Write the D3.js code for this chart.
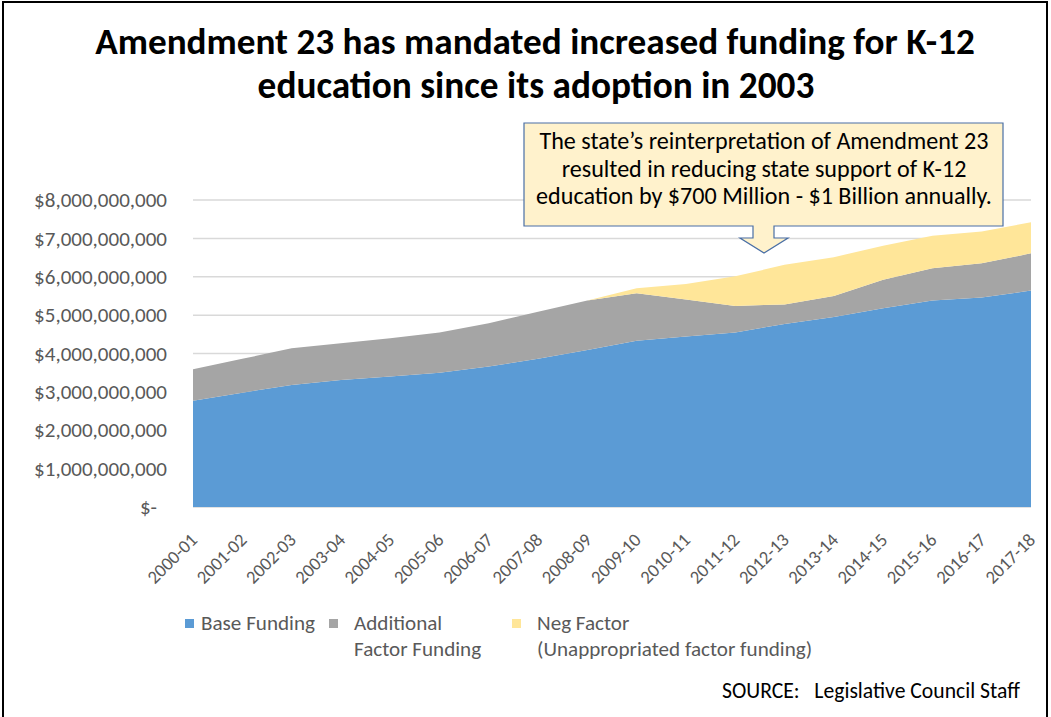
<!DOCTYPE html>
<html>
<head>
<meta charset="utf-8">
<script src="https://cdn.jsdelivr.net/npm/d3@7"></script>
<style>
  html, body { margin: 0; padding: 0; background: #fff; }
  svg { display: block; }
  text { font-family: Carlito, Lato, "Liberation Sans", sans-serif; }
</style>
</head>
<body>
<svg id="chart" width="1051" height="717"></svg>
<script>
// School years on the x axis
const years = ["2000-01","2001-02","2002-03","2003-04","2004-05","2005-06","2006-07","2007-08","2008-09",
               "2009-10","2010-11","2011-12","2012-13","2013-14","2014-15","2015-16","2016-17","2017-18"];

// Funding components, in billions of dollars
const baseFunding       = [2.77, 2.98, 3.18, 3.31, 3.40, 3.50, 3.66, 3.86, 4.09, 4.33, 4.44, 4.55, 4.77, 4.95, 5.18, 5.38, 5.46, 5.64];
const additionalFactor  = [0.82, 0.88, 0.96, 0.96, 1.00, 1.05, 1.13, 1.23, 1.29, 1.24, 0.97, 0.69, 0.51, 0.55, 0.74, 0.84, 0.89, 0.97];
const negFactor         = [0, 0, 0, 0, 0, 0, 0, 0, 0, 0.13, 0.40, 0.77, 1.03, 1.01, 0.89, 0.85, 0.83, 0.81];

const yTicks = [0, 1e9, 2e9, 3e9, 4e9, 5e9, 6e9, 7e9, 8e9];

const seriesNames = ["Base Funding", "Additional Factor Funding", "Neg Factor"];
const legendLines = [["Base Funding"], ["Additional", "Factor Funding"], ["Neg Factor", "(Unappropriated factor funding)"]];
const colors = ["#5B9BD5", "#A5A5A5", "#FFE699"];

const titleLines = ["Amendment 23 has mandated increased funding for K-12", "education since its adoption in 2003"];
const calloutLines = ["The state\u2019s reinterpretation of Amendment 23",
                      "resulted in reducing state support of K-12",
                      "education by $700 Million - $1 Billion annually."];
const sourceText = "SOURCE:\u00a0\u00a0\u00a0Legislative Council Staff";

const svg = d3.select("#chart");

// scale a text node's font size so its rendered width reaches a target width
function fitWidth(sel, target) {
  sel.each(function () {
    const w = this.getComputedTextLength();
    const fs = parseFloat(d3.select(this).attr("font-size"));
    d3.select(this).attr("font-size", (fs * target / w).toFixed(2));
  });
}

// outer frame
svg.append("path")
  .attr("d", "M3,717 V2 H1047 V717")
  .attr("fill", "none").attr("stroke", "#000").attr("stroke-width", 2);

// title
const title = svg.append("g");
title.append("text").attr("x", 535).attr("y", 54).attr("text-anchor", "middle")
  .attr("font-weight", "bold").attr("font-size", 34).attr("fill", "#000")
  .text(titleLines[0]).call(fitWidth, 880);
title.append("text").attr("x", 536).attr("y", 98).attr("text-anchor", "middle")
  .attr("font-weight", "bold").attr("font-size", 34).attr("fill", "#000")
  .text(titleLines[1]).call(fitWidth, 557);

// plot area
const x = d3.scalePoint().domain(years).range([193, 1031]);
const y = d3.scaleLinear().domain([0, 8e9]).range([507, 200]);

const rows = years.map((yr, i) => ({
  year: yr,
  base: baseFunding[i] * 1e9,
  additional: additionalFactor[i] * 1e9,
  neg: negFactor[i] * 1e9
}));
const stack = d3.stack().keys(["base", "additional", "neg"]);
const layers = stack(rows);

// gridlines
svg.append("g").selectAll("line").data(yTicks).join("line")
  .attr("x1", 193).attr("x2", 1031)
  .attr("y1", d => y(d)).attr("y2", d => y(d))
  .attr("stroke", "#D9D9D9").attr("stroke-width", 1.5);

const area = d3.area()
  .x(d => x(d.data.year))
  .y0(d => y(d[0]))
  .y1(d => y(d[1]));

svg.append("g").selectAll("path").data(layers).join("path")
  .attr("d", area)
  .attr("fill", (d, i) => colors[i]);

// y axis labels
const yAxis = d3.axisLeft(y).tickValues(yTicks).tickSize(0).tickPadding(0)
  .tickFormat(d => d === 0 ? "$-" : "$" + d3.format(",")(d));
const gy = svg.append("g").attr("transform", "translate(167,0)").call(yAxis);
gy.select(".domain").remove();
gy.selectAll("text").attr("font-size", 17).attr("fill", "#595959")
  .attr("font-family", "Carlito, Lato, 'Liberation Sans', sans-serif");
gy.selectAll(".tick").filter(d => d === 0).select("text").attr("dx", -10);
gy.selectAll(".tick").filter(d => d === 8e9).select("text").call(fitWidth, 133);
const yfs = gy.selectAll(".tick").filter(d => d === 8e9).select("text").attr("font-size");
gy.selectAll("text").attr("font-size", yfs);

// x axis labels, rotated 45 degrees
const xAxis = d3.axisBottom(x).tickSize(0).tickPadding(0);
const gx = svg.append("g").attr("transform", "translate(0,507)").call(xAxis);
gx.select(".domain").remove();
gx.selectAll("text")
  .attr("font-size", 16).attr("fill", "#595959")
  .attr("font-family", "Carlito, Lato, 'Liberation Sans', sans-serif")
  .attr("text-anchor", "end")
  .attr("dy", null).attr("y", null)
  .attr("transform", "translate(5,34) rotate(-45)");
gx.select(".tick text").call(fitWidth, 62);
const xfs = gx.select(".tick text").attr("font-size");
gx.selectAll("text").attr("font-size", xfs);

// callout with downward arrow
const cx0 = 524, cx1 = 1003, cy0 = 123, cy1 = 226;
const sx0 = 753, sx1 = 774, sy = 238, hx0 = 740, hx1 = 788, tipX = 764, tipY = 253;
svg.append("path")
  .attr("d", `M${cx0},${cy0} H${cx1} V${cy1} H${sx1} V${sy} H${hx1} L${tipX},${tipY} L${hx0},${sy} H${sx0} V${cy1} H${cx0} Z`)
  .attr("fill", "#FFF2CC").attr("stroke", "#4A6FA5").attr("stroke-width", 1.2);
const callout = svg.append("g");
callout.selectAll("text").data(calloutLines).join("text")
  .attr("x", 764).attr("y", (d, i) => 149 + i * 27.5)
  .attr("text-anchor", "middle").attr("font-size", 20).attr("fill", "#000")
  .text(d => d);
callout.selectAll("text").filter((d, i) => i === 2).call(fitWidth, 456);
const cfs = callout.selectAll("text").filter((d, i) => i === 2).attr("font-size");
callout.selectAll("text").attr("font-size", cfs);

// legend
const legend = svg.append("g");
const legendX = [185, 329, 512];
legendLines.forEach((lines, i) => {
  const g = legend.append("g");
  g.append("rect").attr("x", legendX[i]).attr("y", 619).attr("width", 9).attr("height", 9).attr("fill", colors[i]);
  g.selectAll("text").data(lines).join("text")
    .attr("x", legendX[i] + (i === 0 ? 16 : 25)).attr("y", (d, j) => 630 + j * 26)
    .attr("font-size", 17).attr("fill", "#595959")
    .text(d => d);
});
legend.select("g").select("text").call(fitWidth, 114);
const lfs = legend.select("g").select("text").attr("font-size");
legend.selectAll("text").attr("font-size", lfs);

// source note
svg.append("text").attr("x", 722).attr("y", 698).attr("font-size", 16).attr("fill", "#000")
  .text(sourceText).call(fitWidth, 298);
</script>
</body>
</html>
